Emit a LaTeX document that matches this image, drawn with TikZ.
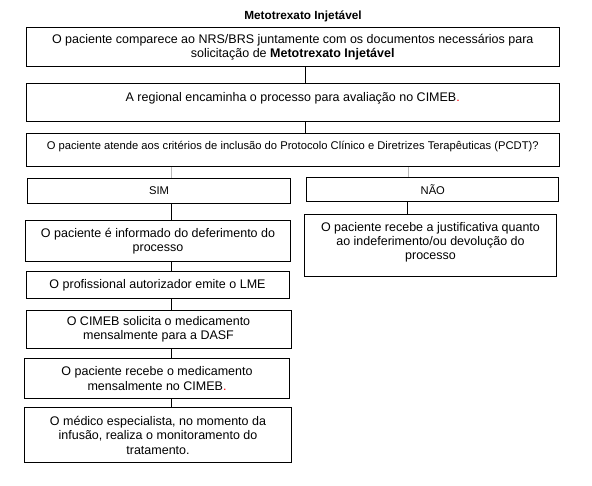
\documentclass[tikz,border=0pt]{standalone}
\usepackage{fontspec}
\setmainfont{Liberation Sans}
\begin{document}
\begin{tikzpicture}[x=1pt,y=-1pt,
  box/.style={draw=black,line width=1pt,rectangle,inner sep=0pt,align=center,font=\fontsize{12.5}{14.3}\selectfont},
  smallbox/.style={box,font=\fontsize{11.2}{13}\selectfont},
  conn/.style={line width=1pt,black},
  gconn/.style={line width=1pt,gray!55}]
\useasboundingbox (0,0) rectangle (592,485);
\node[font=\bfseries\fontsize{11.8}{13}\selectfont] (title) at (303,16.7) {Metotrexato Injetável};
\node[box,minimum width=533.5pt,minimum height=39.4pt] (b1) at (292.75,47) {O paciente comparece ao NRS/BRS juntamente com os documentos necessários para\\solicitação de \textbf{Metotrexato Injetável}};
\node[box,minimum width=533.5pt,minimum height=37.7pt,text height=9pt,text depth=11pt] (b2) at (292.75,102.2) {A regional encaminha o processo para avaliação no CIMEB{\color{red}.}};
\node[smallbox,minimum width=533.5pt,minimum height=33.4pt,text height=8pt,text depth=10pt] (b3) at (292.75,150) {O paciente atende aos critérios de inclusão do Protocolo Clínico e Diretrizes Terapêuticas (PCDT)?};
\node[smallbox,minimum width=263pt,minimum height=25pt] (sim) at (159,190.8) {SIM};
\node[smallbox,minimum width=252.3pt,minimum height=24.4pt] (nao) at (432.8,189.5) {NÃO};
\node[box,minimum width=265pt,minimum height=40.7pt] (a) at (158,241.3) {O paciente é informado do deferimento do\\processo};
\node[box,minimum width=252pt,minimum height=62.4pt,text depth=9pt] (n) at (430.5,245.5) {O paciente recebe a justificativa quanto\\ao indeferimento/ou devolução do\\processo};
\node[box,minimum width=263pt,minimum height=26.6pt] (b) at (157.5,285) {O profissional autorizador emite o LME};
\node[box,minimum width=265pt,minimum height=38.3pt] (c) at (158.5,329.2) {O CIMEB solicita o medicamento\\mensalmente para a DASF};
\node[box,minimum width=265.7pt,minimum height=39.3pt] (d) at (157,378.6) {O paciente recebe o medicamento\\mensalmente no CIMEB{\color{red}.}};
\node[box,minimum width=267.4pt,minimum height=54.7pt] (e) at (158,435.3) {O médico especialista, no momento da\\infusão, realiza o monitoramento do\\tratamento.};
\draw[conn] ([xshift=12.25pt]b1.south) -- ([xshift=12.25pt]b2.north);
\draw[conn] ([xshift=12.25pt]b2.south) -- ([xshift=12.25pt]b3.north);
\draw[gconn] (b3.south -| 171.7,0) -- (sim.north -| 171.7,0);
\draw[gconn] (b3.south -| 408,0) -- (nao.north -| 408,0);
\draw[conn] (sim.south -| 171.7,0) -- (a.north -| 171.7,0);
\draw[conn] (nao.south -| 407.5,0) -- (n.north -| 407.5,0);
\draw[conn] (a.south -| 171.7,0) -- (b.north -| 171.7,0);
\draw[conn] (b.south -| 171.7,0) -- (c.north -| 171.7,0);
\draw[conn] (c.south -| 171.7,0) -- (d.north -| 171.7,0);
\draw[conn] (d.south -| 171.7,0) -- (e.north -| 171.7,0);
\end{tikzpicture}
\end{document}
